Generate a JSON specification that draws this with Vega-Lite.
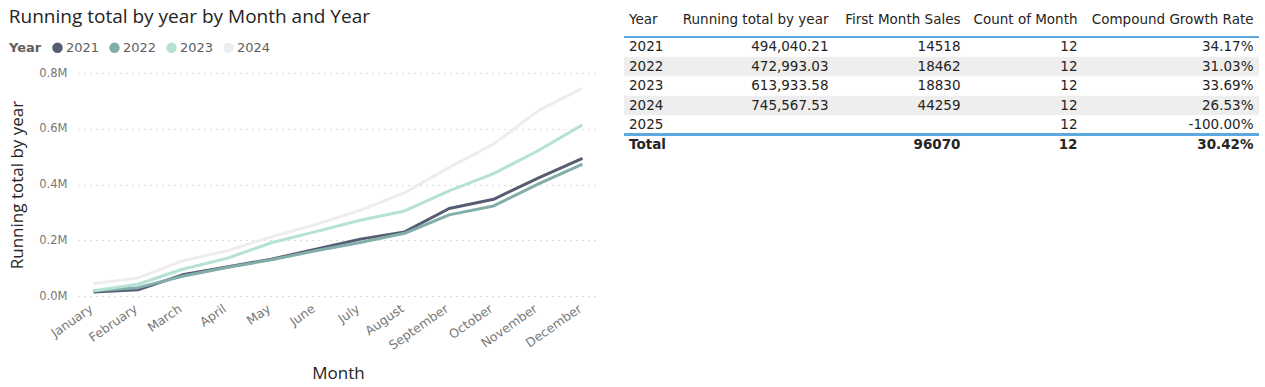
{
  "$schema": "https://vega.github.io/schema/vega-lite/v6.json",
  "padding": {"left": 8, "top": 8, "right": 5, "bottom": 5},
  "bounds": "flush",
  "spacing": 26,
  "background": "white",
  "config": {"view": {"stroke": null}},
  "datasets": {
    "lines": [
      {"Month": "January", "Year": "2021", "Running total": 14518},
      {"Month": "February", "Year": "2021", "Running total": 22000},
      {"Month": "March", "Year": "2021", "Running total": 76000},
      {"Month": "April", "Year": "2021", "Running total": 104000},
      {"Month": "May", "Year": "2021", "Running total": 132000},
      {"Month": "June", "Year": "2021", "Running total": 168000},
      {"Month": "July", "Year": "2021", "Running total": 204000},
      {"Month": "August", "Year": "2021", "Running total": 230000},
      {"Month": "September", "Year": "2021", "Running total": 314000},
      {"Month": "October", "Year": "2021", "Running total": 347000},
      {"Month": "November", "Year": "2021", "Running total": 423000},
      {"Month": "December", "Year": "2021", "Running total": 494040.21},
      {"Month": "January", "Year": "2022", "Running total": 18462},
      {"Month": "February", "Year": "2022", "Running total": 30000},
      {"Month": "March", "Year": "2022", "Running total": 71000},
      {"Month": "April", "Year": "2022", "Running total": 102000},
      {"Month": "May", "Year": "2022", "Running total": 130000},
      {"Month": "June", "Year": "2022", "Running total": 162000},
      {"Month": "July", "Year": "2022", "Running total": 192000},
      {"Month": "August", "Year": "2022", "Running total": 225000},
      {"Month": "September", "Year": "2022", "Running total": 291000},
      {"Month": "October", "Year": "2022", "Running total": 323000},
      {"Month": "November", "Year": "2022", "Running total": 401000},
      {"Month": "December", "Year": "2022", "Running total": 472993.03},
      {"Month": "January", "Year": "2023", "Running total": 18830},
      {"Month": "February", "Year": "2023", "Running total": 42000},
      {"Month": "March", "Year": "2023", "Running total": 96000},
      {"Month": "April", "Year": "2023", "Running total": 135000},
      {"Month": "May", "Year": "2023", "Running total": 191000},
      {"Month": "June", "Year": "2023", "Running total": 231000},
      {"Month": "July", "Year": "2023", "Running total": 272000},
      {"Month": "August", "Year": "2023", "Running total": 305000},
      {"Month": "September", "Year": "2023", "Running total": 377000},
      {"Month": "October", "Year": "2023", "Running total": 439000},
      {"Month": "November", "Year": "2023", "Running total": 521000},
      {"Month": "December", "Year": "2023", "Running total": 613933.58},
      {"Month": "January", "Year": "2024", "Running total": 44259},
      {"Month": "February", "Year": "2024", "Running total": 65000},
      {"Month": "March", "Year": "2024", "Running total": 126000},
      {"Month": "April", "Year": "2024", "Running total": 162000},
      {"Month": "May", "Year": "2024", "Running total": 212000},
      {"Month": "June", "Year": "2024", "Running total": 257000},
      {"Month": "July", "Year": "2024", "Running total": 307000},
      {"Month": "August", "Year": "2024", "Running total": 371000},
      {"Month": "September", "Year": "2024", "Running total": 461000},
      {"Month": "October", "Year": "2024", "Running total": 545000},
      {"Month": "November", "Year": "2024", "Running total": 664000},
      {"Month": "December", "Year": "2024", "Running total": 745567.53}
    ],
    "table": [
      {"row": 0, "col": 0, "text": "Year"},
      {"row": 0, "col": 2, "text": "Running total by year"},
      {"row": 0, "col": 3, "text": "First Month Sales"},
      {"row": 0, "col": 4, "text": "Count of Month"},
      {"row": 0, "col": 5, "text": "Compound Growth Rate"},
      {"row": 1, "col": 0, "text": "2021"},
      {"row": 1, "col": 2, "text": "494,040.21"},
      {"row": 1, "col": 3, "text": "14518"},
      {"row": 1, "col": 4, "text": "12"},
      {"row": 1, "col": 5, "text": "34.17%"},
      {"row": 2, "col": 0, "text": "2022"},
      {"row": 2, "col": 2, "text": "472,993.03"},
      {"row": 2, "col": 3, "text": "18462"},
      {"row": 2, "col": 4, "text": "12"},
      {"row": 2, "col": 5, "text": "31.03%"},
      {"row": 3, "col": 0, "text": "2023"},
      {"row": 3, "col": 2, "text": "613,933.58"},
      {"row": 3, "col": 3, "text": "18830"},
      {"row": 3, "col": 4, "text": "12"},
      {"row": 3, "col": 5, "text": "33.69%"},
      {"row": 4, "col": 0, "text": "2024"},
      {"row": 4, "col": 2, "text": "745,567.53"},
      {"row": 4, "col": 3, "text": "44259"},
      {"row": 4, "col": 4, "text": "12"},
      {"row": 4, "col": 5, "text": "26.53%"},
      {"row": 5, "col": 0, "text": "2025"},
      {"row": 5, "col": 4, "text": "12"},
      {"row": 5, "col": 5, "text": "-100.00%"},
      {"row": 6, "col": 0, "text": "Total"},
      {"row": 6, "col": 3, "text": "96070"},
      {"row": 6, "col": 4, "text": "12"},
      {"row": 6, "col": 5, "text": "30.42%"}
    ]
  },
  "hconcat": [
    {
      "width": 520,
      "height": 223,
      "title": {"text": "Running total by year by Month and Year", "anchor": "start", "frame": "bounds", "font": "Open Sans", "fontSize": 19, "fontWeight": "normal", "color": "#252423", "offset": 40},
      "data": {"name": "lines"},
      "mark": {"type": "line", "strokeWidth": 3, "strokeJoin": "round"},
      "encoding": {
        "x": {
          "field": "Month", "type": "ordinal",
          "sort": ["January", "February", "March", "April", "May", "June", "July", "August", "September", "October", "November", "December"],
          "scale": {"type": "point", "padding": 0.35},
          "axis": {"title": "Month", "titleFont": "Open Sans", "titleFontSize": 17, "titleFontWeight": "normal", "titleColor": "#252423", "titlePadding": 14, "labelAngle": -35, "labelFont": "DejaVu Sans", "labelFontSize": 12.5, "labelColor": "#777777", "labelPadding": 6, "labelOffset": -6, "domain": false, "ticks": false, "grid": false}
        },
        "y": {
          "field": "Running total", "type": "quantitative",
          "scale": {"domain": [0, 800000]},
          "axis": {"title": "Running total by year", "titleFont": "Open Sans", "titleFontSize": 17, "titleFontWeight": "normal", "titleColor": "#252423", "titlePadding": 12, "values": [0, 200000, 400000, 600000, 800000], "labelExpr": "format(datum.value / 1000000, '.1f') + 'M'", "labelFont": "DejaVu Sans", "labelFontSize": 11.5, "labelColor": "#777777", "labelPadding": 11, "domain": false, "ticks": false, "grid": true, "gridDash": [1, 5], "gridColor": "#BBBBBB", "gridWidth": 1}
        },
        "color": {
          "field": "Year", "type": "nominal",
          "scale": {"domain": ["2021", "2022", "2023", "2024"], "range": ["#565C72", "#82AEAA", "#B6E2D5", "#EDEDF1"]},
          "legend": {"orient": "none", "legendX": -69, "legendY": -32, "direction": "horizontal", "title": "Year", "titleOrient": "left", "titleFont": "DejaVu Sans", "titleFontSize": 13, "titleFontWeight": "bold", "titleColor": "#605E5C", "titlePadding": 9, "labelFont": "DejaVu Sans", "labelFontSize": 13, "labelColor": "#605E5C", "labelOffset": 2, "columnPadding": 8, "symbolType": "circle", "symbolSize": 110,
            "encode": {"symbols": {"update": {"fill": {"scale": "color", "field": "value"}, "strokeWidth": {"value": 0}, "opacity": {"value": 1}}}}}
        }
      }
    },
    {
      "width": 640,
      "height": 223,
      "data": {"name": "table"},
      "layer": [
        {
          "transform": [{"filter": "(datum.row == 2 || datum.row == 4) && datum.col == 0"}],
          "mark": {"type": "rule", "color": "#EEEEEE", "strokeWidth": 19.5, "strokeCap": "butt"},
          "encoding": {
            "y": {"field": "row", "type": "quantitative", "scale": {"domain": [0, 1, 6], "range": [-53, -26, 71.5]}, "axis": null},
            "x": {"datum": 0, "type": "quantitative", "scale": {"domain": [0, 1, 2, 3, 4, 5], "range": [0, 52, 210, 342, 459, 635]}, "axis": null},
            "x2": {"datum": 5}
          }
        },
        {
          "mark": {"type": "rule", "color": "#5DA8E0", "strokeWidth": 1.5},
          "encoding": {"y": {"datum": 0.63, "type": "quantitative"}, "x": {"datum": 0, "type": "quantitative"}, "x2": {"datum": 5}}
        },
        {
          "mark": {"type": "rule", "color": "#5DA8E0", "strokeWidth": 1.5},
          "encoding": {"y": {"datum": 5.49, "type": "quantitative"}, "x": {"datum": 0, "type": "quantitative"}, "x2": {"datum": 5}}
        },
        {
          "transform": [{"filter": "datum.row < 6 && datum.col == 0"}],
          "mark": {"type": "text", "align": "left", "baseline": "middle", "dx": 5, "font": "DejaVu Sans", "fontSize": 13.5, "color": "#252423"},
          "encoding": {"x": {"field": "col", "type": "quantitative"}, "y": {"field": "row", "type": "quantitative"}, "text": {"field": "text"}}
        },
        {
          "transform": [{"filter": "datum.row < 6 && datum.col > 0"}],
          "mark": {"type": "text", "align": "right", "baseline": "middle", "dx": -5.5, "font": "DejaVu Sans", "fontSize": 13.5, "color": "#252423"},
          "encoding": {"x": {"field": "col", "type": "quantitative"}, "y": {"field": "row", "type": "quantitative"}, "text": {"field": "text"}}
        },
        {
          "transform": [{"filter": "datum.row == 6 && datum.col == 0"}],
          "mark": {"type": "text", "align": "left", "baseline": "middle", "dx": 5, "font": "DejaVu Sans", "fontSize": 13.5, "fontWeight": "bold", "color": "#252423"},
          "encoding": {"x": {"field": "col", "type": "quantitative"}, "y": {"field": "row", "type": "quantitative"}, "text": {"field": "text"}}
        },
        {
          "transform": [{"filter": "datum.row == 6 && datum.col > 0"}],
          "mark": {"type": "text", "align": "right", "baseline": "middle", "dx": -5.5, "font": "DejaVu Sans", "fontSize": 13.5, "fontWeight": "bold", "color": "#252423"},
          "encoding": {"x": {"field": "col", "type": "quantitative"}, "y": {"field": "row", "type": "quantitative"}, "text": {"field": "text"}}
        }
      ]
    }
  ]
}
